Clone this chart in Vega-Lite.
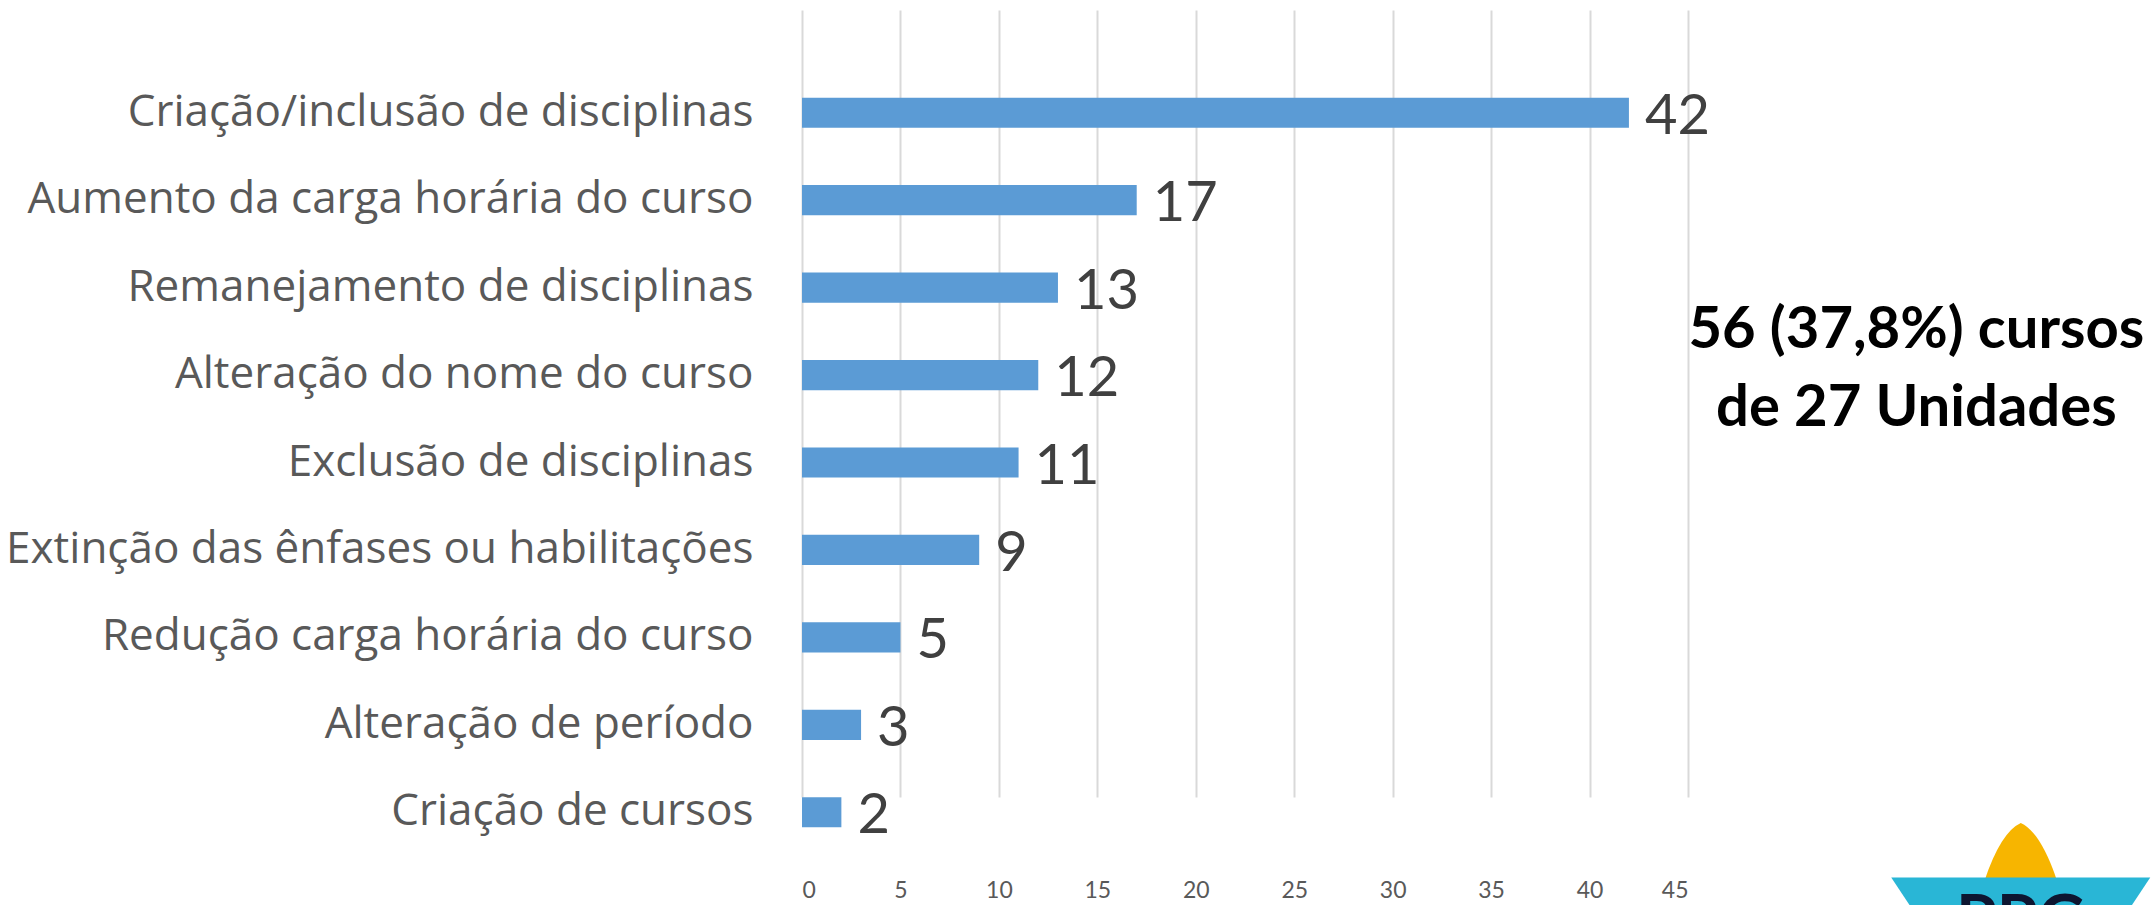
{
  "$schema": "https://vega.github.io/schema/vega-lite/v6.json",
  "autosize": {"type": "none"},
  "padding": {"left": 802, "top": 11, "right": 466, "bottom": 50},
  "width": 886,
  "height": 844,
  "background": "white",
  "config": {"view": {"stroke": null}},
  "datasets": {
    "bars": [
      {"cat": "Criação/inclusão de disciplinas", "n": 42},
      {"cat": "Aumento da carga horária do curso", "n": 17},
      {"cat": "Remanejamento de disciplinas", "n": 13},
      {"cat": "Alteração do nome do curso", "n": 12},
      {"cat": "Exclusão de disciplinas", "n": 11},
      {"cat": "Extinção das ênfases ou habilitações", "n": 9},
      {"cat": "Redução carga horária do curso", "n": 5},
      {"cat": "Alteração de período", "n": 3},
      {"cat": "Criação de cursos", "n": 2}
    ],
    "note": [
      {"cat": "Alteração do nome do curso", "x": 56.6, "label": ["56 (37,8%) cursos", "de 27 Unidades"]}
    ],
    "logo": [
      {"cat": "Criação de cursos", "x": 61.9, "label": "PPG"}
    ]
  },
  "layer": [
    {
      "data": {"name": "bars"},
      "mark": {"type": "bar", "color": "#5b9bd5"},
      "encoding": {
        "y": {
          "field": "cat", "type": "nominal", "sort": null,
          "scale": {"range": [58, 845], "paddingInner": 0.655, "paddingOuter": 0.3275},
          "axis": {
            "title": null, "domain": false, "ticks": false, "grid": false,
            "labelFont": "Open Sans", "labelFontSize": 44, "labelColor": "#595959",
            "labelPadding": 49, "labelLimit": 900
          }
        },
        "x": {
          "field": "n", "type": "quantitative",
          "scale": {"domain": [0, 45], "nice": false},
          "axis": {
            "title": null, "values": [0,5,10,15,20,25,30,35,40,45],
            "domain": false, "ticks": false, "grid": true,
            "gridColor": "#d9d9d9", "gridWidth": 2,
            "labelFont": "Lato", "labelFontSize": 23, "labelColor": "#595959",
            "labelPadding": 24
          }
        }
      }
    },
    {
      "data": {"name": "bars"},
      "mark": {"type": "text", "align": "left", "baseline": "middle", "dx": 16, "dy": 4, "font": "Lato", "fontSize": 56, "color": "#404040"},
      "encoding": {
        "y": {"field": "cat", "type": "nominal", "sort": null},
        "x": {"field": "n", "type": "quantitative"},
        "text": {"field": "n", "type": "quantitative"}
      }
    },
    {
      "data": {"name": "note"},
      "mark": {"type": "text", "align": "center", "baseline": "middle", "dy": -44, "font": "Lato", "fontWeight": "bold", "fontSize": 58, "color": "#000000", "lineHeight": 78, "clip": false},
      "encoding": {
        "y": {"field": "cat", "type": "nominal", "sort": null},
        "x": {"field": "x", "type": "quantitative"},
        "text": {"field": "label"}
      }
    },
    {
      "data": {"name": "logo"},
      "mark": {"type": "point", "filled": true, "opacity": 1, "color": "#f7b500", "shape": "M-1,0.8Q-0.55,-0.55,0,-0.8Q0.55,-0.55,1,0.8Z", "size": 5329, "clip": false},
      "encoding": {
        "y": {"field": "cat", "type": "nominal", "sort": null},
        "yOffset": {"value": 55},
        "x": {"field": "x", "type": "quantitative"}
      }
    },
    {
      "data": {"name": "logo"},
      "mark": {"type": "point", "filled": true, "opacity": 1, "color": "#29b6d6", "shape": "M-1,-0.02L1,-0.02L0.82,0.25L-0.82,0.25Z", "size": 67081, "clip": false},
      "encoding": {
        "y": {"field": "cat", "type": "nominal", "sort": null},
        "yOffset": {"value": 83},
        "x": {"field": "x", "type": "quantitative"}
      }
    },
    {
      "data": {"name": "logo"},
      "mark": {"type": "text", "align": "center", "baseline": "top", "dy": 79, "font": "Lato", "fontWeight": "bold", "fontSize": 66, "color": "#0d1530", "clip": false},
      "encoding": {
        "y": {"field": "cat", "type": "nominal", "sort": null},
        "x": {"field": "x", "type": "quantitative"},
        "text": {"field": "label"}
      }
    }
  ]
}
